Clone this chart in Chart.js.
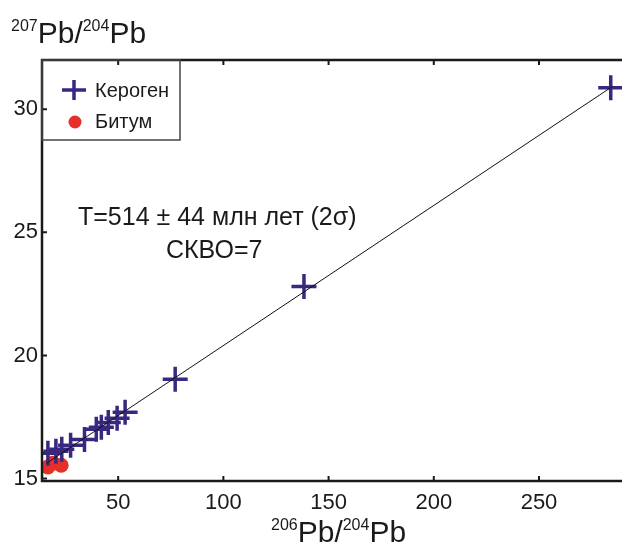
<!DOCTYPE html>
<html lang="ru">
    <head>
        <meta charset="UTF-8">
        <title>Pb-Pb isochron</title>
        <script src="https://cdn.jsdelivr.net/npm/chart.js@4.4.0/dist/chart.umd.min.js"></script>
        <style>
            body { margin: 0; overflow: hidden; background: #fff; }
        </style>
    </head>
    <body>
        <canvas id="isoChart" width="640" height="544"></canvas>
        <script>
            // kerogen points (206Pb/204Pb, 207Pb/204Pb)
            var keroX = [16.6, 20.4, 23.2, 27.4, 34.0, 39.6, 42.0, 45.3, 49.5, 53.3, 77.1, 138.3, 284.1];
            var keroY = [16.03, 16.11, 16.19, 16.35, 16.59, 17.00, 17.08, 17.28, 17.45, 17.69, 19.03, 22.80, 30.87];
            // bitumen points
            var bitX = [16.6, 18.9, 22.9];
            var bitY = [15.47, 15.62, 15.54];
            // isochron line ends
            var lineX = [16, 285];
            var lineY = [15.62, 30.93];

            var xTicks = [50, 100, 150, 200, 250];
            var yTicks = [15, 20, 25, 30];

            var purple = '#3a2880';
            var red = '#e5302a';
            var ink = '#1a1a1a';
            var font = 'Liberation Sans, Arial, sans-serif';

            function pts(xs, ys) {
                return xs.map(function(x, i) { return { x: x, y: ys[i] }; });
            }

            // text with superscript parts: [[text, isSup], ...]
            function supText(ctx, parts, x, y, big, small) {
                parts.forEach(function(p) {
                    ctx.font = (p[1] ? small : big) + 'px ' + font;
                    ctx.fillText(p[0], x, p[1] ? y - big * 0.4 : y);
                    x += ctx.measureText(p[0]).width;
                });
            }

            var decor = {
                id: 'decor',
                afterDraw: function(chart) {
                    var ctx = chart.ctx, a = chart.chartArea;
                    var xs = chart.scales.x, ys = chart.scales.y;
                    ctx.save();
                    // frame
                    ctx.strokeStyle = ink;
                    ctx.lineWidth = 2.5;
                    ctx.strokeRect(a.left, a.top, a.right - a.left, a.bottom - a.top);
                    // inward ticks
                    ctx.lineWidth = 2;
                    ctx.beginPath();
                    xTicks.forEach(function(v) {
                        var px = xs.getPixelForValue(v);
                        ctx.moveTo(px, a.bottom); ctx.lineTo(px, a.bottom - 5);
                        ctx.moveTo(px, a.top); ctx.lineTo(px, a.top + 5);
                    });
                    yTicks.forEach(function(v) {
                        var py = ys.getPixelForValue(v);
                        ctx.moveTo(a.left, py); ctx.lineTo(a.left + 5, py);
                    });
                    ctx.stroke();

                    // legend box
                    ctx.lineWidth = 1.5;
                    ctx.strokeStyle = '#444';
                    ctx.strokeRect(a.left, a.top, 138, 80);
                    ctx.strokeStyle = purple;
                    ctx.lineWidth = 3.5;
                    ctx.beginPath();
                    ctx.moveTo(62, 90); ctx.lineTo(86, 90);
                    ctx.moveTo(74, 80); ctx.lineTo(74, 100);
                    ctx.stroke();
                    ctx.fillStyle = red;
                    ctx.beginPath();
                    ctx.arc(75, 122, 6.5, 0, Math.PI * 2);
                    ctx.fill();
                    ctx.fillStyle = ink;
                    ctx.font = '20px ' + font;
                    ctx.textBaseline = 'alphabetic';
                    ctx.fillText('Кероген', 95, 97);
                    ctx.fillText('Битум', 95, 128);

                    // age annotation
                    ctx.font = '25px ' + font;
                    ctx.fillText('T=514 \u00b1 44 млн лет (2σ)', 78, 225);
                    ctx.fillText('СКВО=7', 166, 258);

                    // axis titles
                    supText(ctx, [['207', true], ['Pb/', false], ['204', true], ['Pb', false]], 11, 43, 30, 16);
                    supText(ctx, [['206', true], ['Pb/', false], ['204', true], ['Pb', false]], 271, 542, 30, 16);
                    ctx.restore();
                }
            };

            var ctx = document.getElementById('isoChart').getContext('2d');
            var isoChart = new Chart(ctx, {
                type: 'scatter',
                data: {
                    datasets: [{
                        label: 'Изохрона',
                        type: 'line',
                        data: pts(lineX, lineY),
                        borderColor: '#111',
                        borderWidth: 1,
                        pointRadius: 0,
                        fill: false,
                        clip: 0
                    }, {
                        label: 'Кероген',
                        data: pts(keroX, keroY),
                        pointStyle: 'cross',
                        pointRadius: 12.5,
                        borderColor: purple,
                        backgroundColor: purple,
                        borderWidth: 3.5,
                        clip: 0
                    }, {
                        label: 'Битум',
                        data: pts(bitX, bitY),
                        pointStyle: 'circle',
                        pointRadius: 7.5,
                        borderWidth: 0,
                        backgroundColor: red,
                        borderColor: red,
                        clip: 0
                    }]
                },
                options: {
                    responsive: false,
                    animation: false,
                    layout: { padding: { left: 0, top: 60, right: 10, bottom: 0 } },
                    plugins: {
                        legend: { display: false },
                        tooltip: { enabled: false }
                    },
                    scales: {
                        x: {
                            type: 'linear',
                            min: 13.8,
                            max: 290.4,
                            grid: { display: false, drawTicks: false },
                            border: { display: false },
                            afterFit: function(s) { s.height = 63; },
                            afterBuildTicks: function(s) { s.ticks = xTicks.map(function(v) { return { value: v }; }); },
                            ticks: { color: ink, padding: 9, font: { family: font, size: 22 } }
                        },
                        y: {
                            type: 'linear',
                            min: 14.9,
                            max: 32,
                            grid: { display: false, drawTicks: false },
                            border: { display: false },
                            afterFit: function(s) { s.width = 42; },
                            afterBuildTicks: function(s) { s.ticks = yTicks.map(function(v) { return { value: v }; }); },
                            ticks: { color: ink, padding: 4, font: { family: font, size: 22 } }
                        }
                    }
                },
                plugins: [decor]
            });
        </script>
    </body>
</html>
